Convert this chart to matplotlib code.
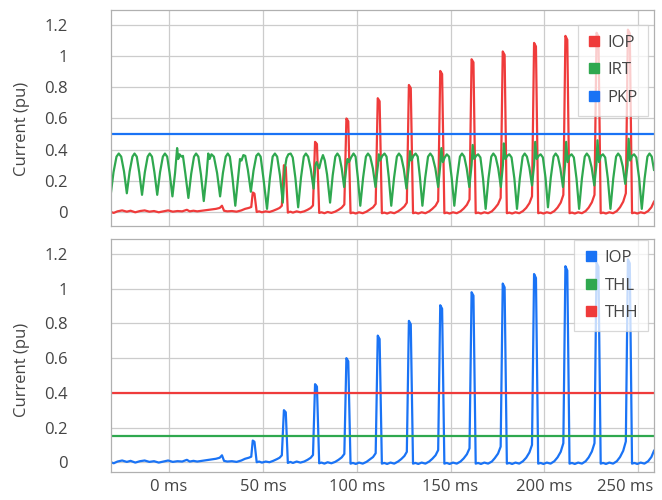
import numpy as np
import matplotlib.pyplot as plt
import matplotlib.transforms as mtransforms
from matplotlib.lines import Line2D

plt.rcParams["font.family"] = ["Open Sans", "DejaVu Sans"]

# Operating current IOP (pu), traced (t in ms, value)
iop_points = [
    (-31.0, 0.000), (-29.5, -0.006), (-27.5, 0.004), (-25.0, 0.010), (-22.5, 0.002),
    (-20.5, 0.008), (-18.0, -0.002), (-15.5, 0.006), (-13.0, 0.010), (-10.5, 0.002),
    (-8.0, 0.006), (-5.5, -0.002), (-3.0, 0.004), (-0.5, 0.010), (2.0, 0.002),
    (4.5, 0.006), (7.0, 0.004), (9.5, 0.014), (11.0, 0.004), (13.0, 0.008),
    (15.0, 0.004), (17.5, 0.008), (20.0, 0.012), (22.5, 0.016), (25.0, 0.020),
    (27.0, 0.026), (28.2, 0.040), (29.3, 0.008), (31.0, 0.004), (33.5, 0.006),
    (36.0, 0.002), (38.5, 0.010), (40.5, 0.020), (42.5, 0.026), (43.8, 0.032),
    (44.6, 0.125), (45.5, 0.118), (46.7, 0.000),
    (48.0, 0.004), (49.5, -0.002), (51.5, 0.004), (53.5, 0.000), (55.5, 0.008),
    (57.5, 0.018), (58.9, 0.026), (60.1, 0.040), (61.2, 0.300), (62.2, 0.288), (63.3, -0.004),
    (64.6, 0.002), (66.0, -0.004), (68.0, 0.004), (70.0, -0.002), (72.0, 0.004),
    (73.8, 0.014), (75.5, 0.026), (76.7, 0.042), (77.8, 0.450), (78.8, 0.436), (80.0, -0.006),
    (81.2, -0.002), (82.8, -0.008), (84.5, 0.000), (86.5, -0.006), (88.5, 0.002),
    (90.3, 0.014), (92.0, 0.028), (93.4, 0.048), (94.5, 0.600), (95.5, 0.582), (96.7, -0.008),
    (98.0, -0.004), (99.5, -0.010), (101.2, -0.002), (103.2, -0.008), (105.2, 0.002),
    (107.0, 0.016), (108.7, 0.030), (110.1, 0.052), (111.2, 0.730), (112.2, 0.710), (113.4, -0.008),
    (114.7, -0.004), (116.2, -0.010), (118.0, -0.002), (120.0, -0.008), (122.0, 0.004),
    (123.7, 0.018), (125.4, 0.036), (126.7, 0.060), (127.8, 0.815), (128.8, 0.795), (130.0, -0.008),
    (131.3, -0.004), (132.8, -0.010), (134.6, -0.002), (136.6, -0.008), (138.6, 0.004),
    (140.3, 0.020), (142.0, 0.040), (143.4, 0.070), (144.5, 0.905), (145.5, 0.885), (146.7, -0.008),
    (148.0, -0.004), (149.5, -0.010), (151.3, -0.002), (153.3, -0.008), (155.3, 0.004),
    (157.0, 0.022), (158.7, 0.046), (160.1, 0.080), (161.2, 0.980), (162.2, 0.960), (163.4, -0.008),
    (164.7, -0.004), (166.2, -0.010), (168.0, -0.002), (170.0, -0.008), (172.0, 0.004),
    (173.6, 0.024), (175.3, 0.050), (176.7, 0.090), (177.8, 1.030), (178.8, 1.008), (180.0, -0.008),
    (181.3, -0.004), (182.8, -0.010), (184.6, -0.002), (186.6, -0.008), (188.6, 0.006),
    (190.3, 0.026), (192.0, 0.056), (193.4, 0.100), (194.5, 1.085), (195.5, 1.062), (196.7, -0.008),
    (198.0, -0.004), (199.5, -0.010), (201.3, -0.002), (203.3, -0.008), (205.3, 0.006),
    (207.0, 0.028), (208.7, 0.060), (210.1, 0.110), (211.2, 1.130), (212.2, 1.105), (213.4, -0.008),
    (214.7, -0.004), (216.2, -0.010), (218.0, -0.002), (220.0, -0.008), (222.0, 0.006),
    (223.6, 0.028), (225.3, 0.062), (226.7, 0.110), (227.8, 1.150), (228.8, 1.126), (230.0, -0.008),
    (231.3, -0.004), (232.8, -0.010), (234.6, -0.002), (236.6, -0.008), (238.6, 0.006),
    (240.3, 0.030), (242.0, 0.066), (243.4, 0.120), (244.5, 1.170), (245.5, 1.146), (246.7, -0.008),
    (248.0, -0.004), (249.5, -0.010), (251.3, -0.002), (253.3, -0.008), (255.3, 0.006),
    (257.0, 0.030), (258.4, 0.066),
]

# Restraint current IRT (pu), traced (t in ms, value)
irt_points = [
    (-31.1, 0.110), (-29.6, 0.255), (-28.0, 0.355), (-26.8, 0.375), (-25.5, 0.355), (-24.0, 0.260),
    (-22.5, 0.120), (-21.0, 0.260), (-19.5, 0.355), (-18.4, 0.375), (-17.2, 0.355), (-15.9, 0.255),
    (-14.4, 0.110), (-12.9, 0.255), (-11.4, 0.355), (-10.3, 0.375), (-9.1, 0.355), (-7.8, 0.255),
    (-6.3, 0.110), (-4.8, 0.255), (-3.3, 0.355), (-2.2, 0.375), (-1.0, 0.355), (0.3, 0.250),
    (1.8, 0.100), (3.2, 0.250), (4.3, 0.410), (4.9, 0.340), (5.6, 0.370), (6.6, 0.355), (7.4, 0.360), (8.7, 0.245),
    (10.3, 0.090), (11.8, 0.245), (13.3, 0.355), (14.4, 0.375), (15.6, 0.355), (17.0, 0.240),
    (18.5, 0.070), (20.0, 0.240), (20.9, 0.375), (21.6, 0.340), (22.6, 0.370), (23.9, 0.355), (25.6, 0.250),
    (27.2, 0.100), (28.7, 0.250), (30.2, 0.355), (31.3, 0.375), (32.4, 0.355), (33.8, 0.220),
    (35.3, 0.040), (36.8, 0.220), (37.8, 0.340), (38.6, 0.330), (39.6, 0.365), (40.6, 0.360), (42.0, 0.270),
    (43.6, 0.130), (45.0, 0.265), (46.5, 0.360), (47.6, 0.375), (48.8, 0.355), (50.3, 0.215),
    (52.2, 0.020), (53.7, 0.215), (55.2, 0.355), (56.4, 0.375), (57.6, 0.355), (59.1, 0.235),
    (60.6, 0.060), (61.7, 0.280), (62.6, 0.345), (63.6, 0.370), (64.8, 0.375), (65.9, 0.350), (67.3, 0.220),
    (68.8, 0.030), (70.3, 0.220), (71.8, 0.355), (72.9, 0.375), (74.1, 0.355), (75.5, 0.275),
    (77.0, 0.150), (78.0, 0.300), (78.6, 0.320), (80.0, 0.280), (81.0, 0.330), (82.0, 0.365), (83.0, 0.330), (84.2, 0.240),
    (85.8, 0.060), (87.2, 0.235), (88.6, 0.355), (89.7, 0.375), (90.8, 0.355), (92.0, 0.280),
    (93.3, 0.160), (94.6, 0.300), (95.1, 0.340), (95.9, 0.320), (97.0, 0.350), (98.3, 0.375), (99.4, 0.355), (100.6, 0.220),
    (101.9, 0.040), (103.4, 0.220), (104.9, 0.355), (106.0, 0.375), (107.2, 0.355), (108.6, 0.280),
    (110.0, 0.160), (111.3, 0.300), (111.8, 0.370), (112.5, 0.330), (113.6, 0.360), (114.8, 0.375), (115.9, 0.355), (117.1, 0.220),
    (118.4, 0.040), (119.9, 0.220), (121.4, 0.355), (122.5, 0.375), (123.7, 0.355), (125.1, 0.275),
    (126.5, 0.150), (127.8, 0.300), (128.4, 0.390), (129.1, 0.330), (130.2, 0.360), (131.4, 0.375), (132.5, 0.355), (133.7, 0.220),
    (135.0, 0.040), (136.5, 0.220), (138.0, 0.355), (139.2, 0.375), (140.4, 0.355), (141.9, 0.280),
    (143.4, 0.160), (144.5, 0.300), (145.1, 0.410), (145.9, 0.320), (146.9, 0.350), (148.0, 0.370), (149.2, 0.355), (150.6, 0.220),
    (152.0, 0.040), (153.5, 0.220), (155.0, 0.355), (156.1, 0.375), (157.3, 0.355), (158.6, 0.280),
    (160.0, 0.160), (161.2, 0.300), (161.8, 0.430), (162.6, 0.340), (163.6, 0.360), (164.7, 0.370), (165.9, 0.350), (167.3, 0.215),
    (168.7, 0.020), (170.2, 0.215), (171.7, 0.355), (172.8, 0.375), (174.0, 0.355), (175.4, 0.280),
    (176.8, 0.160), (177.9, 0.300), (178.4, 0.440), (179.2, 0.340), (180.2, 0.360), (181.3, 0.370), (182.5, 0.350), (184.0, 0.215),
    (185.4, 0.020), (186.9, 0.215), (188.4, 0.355), (189.5, 0.375), (190.7, 0.355), (192.0, 0.285),
    (193.4, 0.170), (194.5, 0.300), (195.1, 0.450), (195.9, 0.340), (196.9, 0.360), (198.0, 0.370), (199.2, 0.350), (200.6, 0.220),
    (201.9, 0.030), (203.4, 0.220), (204.9, 0.355), (206.0, 0.375), (207.2, 0.355), (208.5, 0.280),
    (209.9, 0.160), (211.0, 0.300), (211.6, 0.450), (212.4, 0.320), (213.4, 0.360), (214.5, 0.370), (215.7, 0.350), (217.1, 0.215),
    (218.5, 0.020), (220.0, 0.215), (221.5, 0.355), (222.6, 0.375), (223.8, 0.355), (225.2, 0.285),
    (226.6, 0.170), (227.7, 0.300), (228.3, 0.460), (229.1, 0.320), (230.1, 0.360), (231.2, 0.370), (232.4, 0.350), (233.8, 0.215),
    (235.2, 0.020), (236.7, 0.215), (238.2, 0.355), (239.3, 0.375), (240.5, 0.355), (241.8, 0.290),
    (243.1, 0.180), (244.3, 0.300), (244.9, 0.470), (245.7, 0.330), (246.7, 0.360), (247.8, 0.370), (249.0, 0.350), (250.5, 0.215),
    (251.9, 0.020), (253.4, 0.215), (254.9, 0.355), (256.0, 0.375), (257.2, 0.355), (258.4, 0.270),
]

pkp = 0.5   # pickup
thl = 0.15  # low threshold
thh = 0.4   # high threshold

x_ticks = [0, 50, 100, 150, 200, 250]
x_labels = ["0 ms", "50 ms", "100 ms", "150 ms", "200 ms", "250 ms"]
y_ticks = [0, 0.2, 0.4, 0.6, 0.8, 1, 1.2]
y_labels = ["0", "0.2", "0.4", "0.6", "0.8", "1", "1.2"]

RED = "#ef3b3b"
GREEN = "#2fa84f"
BLUE = "#1a73f5"
LW = 1.6
xlim = (-31.1, 258.4)

iop_t, iop_v = np.array(iop_points).T
irt_t, irt_v = np.array(irt_points).T

fig = plt.figure(figsize=(6.62, 5.0), dpi=100)
ax1 = fig.add_axes([0.1672, 0.548, 0.8207, 0.432])
ax2 = fig.add_axes([0.1672, 0.0554, 0.8207, 0.466])


def style(ax, ylim):
    ax.set_xlim(*xlim)
    ax.set_ylim(*ylim)
    ax.set_xticks(x_ticks)
    ax.set_yticks(y_ticks)
    ax.set_yticklabels(y_labels)
    ax.grid(True, color="#cccccc", linewidth=0.9)
    ax.set_axisbelow(True)
    for s in ax.spines.values():
        s.set_color("#b0b0b0")
        s.set_linewidth(0.9)
    ax.tick_params(length=0, labelsize=12, colors="#444444")
    ax.tick_params(axis="y", pad=31)
    ax.tick_params(axis="x", pad=5)
    ax.set_ylabel("Current (pu)", fontsize=12, color="#444444")


# Top: IOP / IRT / PKP
style(ax1, (-0.09, 1.296))
ax1.set_xticklabels([])
ax1.plot(iop_t, iop_v, color=RED, linewidth=LW)
ax1.plot(irt_t, irt_v, color=GREEN, linewidth=LW)
ax1.axhline(pkp, color=BLUE, linewidth=LW)
ax1.yaxis.set_label_coords(-0.149, 0.451)

# Bottom: IOP with thresholds
style(ax2, (-0.058, 1.285))
ax2.set_xticklabels(x_labels)
ax2.plot(iop_t, iop_v, color=BLUE, linewidth=LW)
ax2.axhline(thl, color=GREEN, linewidth=LW)
ax2.axhline(thh, color=RED, linewidth=LW)
ax2.yaxis.set_label_coords(-0.149, 0.438)

# last tick label is pulled inside the chart, like the original
last = ax2.get_xticklabels()[-1]
last.set_transform(last.get_transform() +
                   mtransforms.ScaledTranslation(-0.13, 0, fig.dpi_scale_trans))


def square(c):
    return Line2D([], [], marker="s", color=c, linestyle="none", markersize=6.5)


leg_kw = dict(loc="upper right", fontsize=12, frameon=True, fancybox=False,
              labelspacing=0.68, handletextpad=0.4, borderpad=0.6,
              handlelength=0.8, borderaxespad=0)
leg1 = ax1.legend([square(RED), square(GREEN), square(BLUE)], ["IOP", "IRT", "PKP"],
                  bbox_to_anchor=(0.989, 0.931), **leg_kw)
leg2 = ax2.legend([square(BLUE), square(GREEN), square(RED)], ["IOP", "THL", "THH"],
                  bbox_to_anchor=(0.989, 0.996), **leg_kw)
for leg in (leg1, leg2):
    leg.get_frame().set_edgecolor("#cccccc")
    leg.get_frame().set_linewidth(0.9)
    leg.get_frame().set_alpha(0.75)
    for t in leg.get_texts():
        t.set_color("#444444")

fig.savefig("out.png", dpi=100)
